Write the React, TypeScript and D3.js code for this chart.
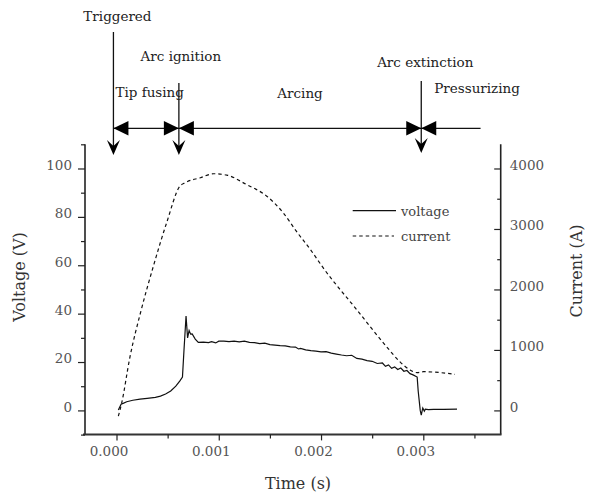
import React, { useEffect, useRef } from "react";
import * as d3 from "d3";

// ---- data ----
const voltageTime = [
  0.000018, 0.000045, 0.00007, 0.0001, 0.00016, 0.00023, 0.0003, 0.00038, 0.00043, 0.00048,
  0.00053, 0.00058, 0.00062, 0.000645, 0.00066, 0.00068, 0.000695, 0.00071, 0.000725, 0.00074,
  0.00077, 0.0008, 0.00085, 0.0009, 0.00093, 0.00097, 0.001, 0.00105, 0.0011, 0.00115,
  0.0012, 0.00125, 0.0013, 0.00135, 0.0014, 0.00145, 0.0015, 0.00155, 0.0016, 0.00165,
  0.0017, 0.00175, 0.00178, 0.0018, 0.00185, 0.0019, 0.00195, 0.002, 0.00205, 0.0021,
  0.00215, 0.0022, 0.00225, 0.0023, 0.00235, 0.0024, 0.00245, 0.0025, 0.00255, 0.0026,
  0.00263, 0.00266, 0.00269, 0.00272, 0.00275, 0.00278, 0.00281, 0.00284, 0.00287, 0.0029,
  0.00294, 0.00295, 0.00297, 0.00298, 0.002995, 0.00301, 0.00302, 0.00305, 0.0031, 0.0032,
  0.00333,
];
const voltageValues = [
  0.2, 2.6, 3.0, 3.6, 4.2, 4.7, 5.0, 5.4, 5.9, 6.8,
  8.0, 10.0, 12.2, 13.8, 25, 39, 30, 33, 31.5, 31.6,
  29.5, 28.1, 28.2, 28.0, 28.4, 27.9, 28.6, 28.6, 28.4, 28.6,
  28.3, 28.6, 28.1, 28.0, 27.6, 27.8, 27.2, 27.0, 26.8, 26.7,
  26.3, 26.2, 25.4, 25.6, 25.0, 24.7, 24.5, 24.2, 24.3, 23.7,
  23.3, 22.9, 22.6, 22.8, 21.5, 21.2, 20.6, 20.3, 19.4, 19.6,
  18.2, 18.8, 17.4, 18.0, 16.9, 17.5, 16.2, 16.5, 15.2, 14.7,
  13.8, 8, 0, -2.0, 1.0, -0.3, 0.5, 0.3, 0.4, 0.4,
  0.5,
];
const currentTime = [
  0.000018, 0.00005, 0.00013, 0.00024, 0.00036, 0.00049, 0.00062, 0.00067, 0.00082, 0.00095,
  0.00108, 0.00127, 0.00147, 0.00163, 0.00176, 0.0019, 0.00202, 0.00235, 0.00264, 0.00277,
  0.00287, 0.00294, 0.003, 0.00331,
];
const currentValues = [
  -95, 116, 870, 1650, 2381, 3101, 3708, 3764, 3847, 3913,
  3890, 3736, 3542, 3267, 2960, 2650, 2360, 1663, 1055, 806,
  668, 624, 640, 597,
];
const timeTicks = [0, 0.001, 0.002, 0.003];
const timeMinorTicks = [0.0005, 0.0015, 0.0025, 0.0035];
const voltageTicks = [0, 20, 40, 60, 80, 100];
const voltageMinorTicks = [-10, 10, 30, 50, 70, 90, 110];
const currentTicks = [0, 1000, 2000, 3000, 4000];
const currentMinorTicks = [500, 1500, 2500, 3500];
const eventNames = ["Triggered", "Arc ignition", "Arc extinction"];
const eventTimes = [-0.00003, 0.00061, 0.00298];
const phaseNames = ["Tip fusing", "Arcing", "Pressurizing"];
const phaseEndTime = 0.00356;
const legendNames = ["voltage", "current"];

const FONT = "'DejaVu Serif', serif";

export default function App() {
  const leftRef = useRef<SVGGElement>(null);
  const rightRef = useRef<SVGGElement>(null);
  const bottomRef = useRef<SVGGElement>(null);

  const x = d3.scaleLinear().domain([0, 0.003]).range([116.5, 423.3]);
  const yV = d3.scaleLinear().domain([-10, 110]).range([434.6, 144.3]);
  const yI = d3.scaleLinear().domain([-400, 4400]).range([434.6, 144.3]);
  const left = 85;
  const right = 500.7;
  const bottom = 434.4;

  useEffect(() => {
    const gl = d3.select(leftRef.current!);
    gl.selectAll("*").remove();
    gl.append("g").call(d3.axisLeft(yV).tickValues(voltageTicks).tickSize(7).tickPadding(6).tickFormat(d3.format("d")));
    gl.append("g").call(d3.axisLeft(yV).tickValues(voltageMinorTicks).tickSize(4).tickFormat(() => ""));
    gl.selectAll(".domain").remove();
    gl.selectAll("line").attr("stroke", "#222").attr("stroke-width", 1.2);
    gl.selectAll("text").attr("font-family", FONT).attr("font-size", 13.5).attr("fill", "#555").attr("dy", "0.06em");

    const gr = d3.select(rightRef.current!);
    gr.selectAll("*").remove();
    gr.append("g").call(d3.axisRight(yI).tickValues(currentTicks).tickSize(-6.5).tickPadding(9).tickFormat(d3.format("d")));
    gr.append("g").call(d3.axisRight(yI).tickValues(currentMinorTicks).tickSize(-3.5).tickFormat(() => ""));
    gr.selectAll(".domain").remove();
    gr.selectAll("line").attr("stroke", "#222").attr("stroke-width", 1.2);
    gr.selectAll("text").attr("font-family", FONT).attr("font-size", 13.5).attr("fill", "#555").attr("dy", "0.06em");

    const gb = d3.select(bottomRef.current!);
    gb.selectAll("*").remove();
    gb.append("g").call(d3.axisBottom(x).tickValues(timeTicks).tickSize(6).tickFormat(d3.format(".3f")));
    gb.append("g").call(d3.axisBottom(x).tickValues(timeMinorTicks).tickSize(4).tickFormat(() => ""));
    gb.selectAll(".domain").remove();
    gb.selectAll("line").attr("stroke", "#222").attr("stroke-width", 1.2);
    gb.selectAll("text").attr("font-family", FONT).attr("font-size", 13.5).attr("fill", "#555")
      .attr("x", -8).attr("y", 21.5).attr("dy", "0");
  }, []);

  const vData = voltageTime.map((t, i) => [t, voltageValues[i]] as [number, number]);
  const iData = currentTime.map((t, i) => [t, currentValues[i]] as [number, number]);
  const vLine = d3.line<[number, number]>().x((d) => x(d[0])).y((d) => yV(d[1]));
  const iLine = d3.line<[number, number]>().x((d) => x(d[0])).y((d) => yI(d[1])).curve(d3.curveMonotoneX);

  const evX = eventTimes.map((t) => x(t));
  const endX = x(phaseEndTime);
  const hy = 128.3;
  const arrowTops = [32, 83, 81];
  const arrowTips = [155, 155, 153];
  const labelY = [21, 61, 67];
  const labelDx = [4, 2, 4];

  const downHead = (cx: number, tip: number) =>
    `M${cx},${tip} L${cx - 6.5},${tip - 15} L${cx},${tip - 9} L${cx + 6.5},${tip - 15} Z`;
  const leftHead = (tx: number) => `M${tx},${hy} L${tx + 15},${hy - 7.2} L${tx + 15},${hy + 7.2} Z`;
  const rightHead = (tx: number) => `M${tx},${hy} L${tx - 15},${hy - 7.2} L${tx - 15},${hy + 7.2} Z`;

  return (
    <svg width={589} height={498} style={{ position: "absolute", left: 0, top: 0, background: "#fff" }}>
      <rect x={0} y={0} width={589} height={498} fill="#fff" />
      {/* annotations */}
      <g fill="#222" fontFamily={FONT} fontSize={13.5}>
        {eventNames.map((n, i) => (
          <g key={n}>
            <text x={evX[i] + labelDx[i]} y={labelY[i]} textAnchor="middle">{n}</text>
            <line x1={evX[i]} x2={evX[i]} y1={arrowTops[i]} y2={arrowTips[i] - 6} stroke="#111" strokeWidth={1.3} />
            <path d={downHead(evX[i], arrowTips[i])} fill="#000" />
          </g>
        ))}
        <line x1={evX[0]} x2={endX} y1={hy} y2={hy} stroke="#111" strokeWidth={1.3} />
        <path d={leftHead(evX[0])} fill="#000" />
        <path d={rightHead(evX[1])} fill="#000" />
        <path d={leftHead(evX[1])} fill="#000" />
        <path d={rightHead(evX[2])} fill="#000" />
        <path d={leftHead(evX[2])} fill="#000" />
        <text x={evX[0] + 2} y={97}>{phaseNames[0]}</text>
        <text x={(evX[1] + evX[2]) / 2} y={98} textAnchor="middle">{phaseNames[1]}</text>
        <text x={evX[2] + 13} y={93}>{phaseNames[2]}</text>
      </g>

      {/* axes lines */}
      <line x1={left} x2={left} y1={144.3} y2={bottom} stroke="#222" strokeWidth={1.6} />
      <line x1={right} x2={right} y1={144.3} y2={bottom} stroke="#222" strokeWidth={1.6} />
      <line x1={left - 2} x2={right + 0.8} y1={bottom} y2={bottom} stroke="#333" strokeWidth={2} />
      <g ref={leftRef} transform={`translate(${left},0)`} />
      <g ref={rightRef} transform={`translate(${right},0)`} />
      <g ref={bottomRef} transform={`translate(0,${bottom})`} />

      {/* series */}
      <path d={iLine(iData) || ""} fill="none" stroke="#111" strokeWidth={1.2} strokeDasharray="3.5,3" />
      <path d={vLine(vData) || ""} fill="none" stroke="#111" strokeWidth={1.2} />

      {/* legend */}
      <g fontFamily={FONT} fontSize={13} fill="#444">
        <line x1={352.7} x2={396} y1={210.7} y2={210.7} stroke="#111" strokeWidth={1.2} />
        <text x={401} y={215.5}>{legendNames[0]}</text>
        <line x1={352.7} x2={394} y1={236} y2={236} stroke="#111" strokeWidth={1.2} strokeDasharray="3.5,3" />
        <text x={401} y={240.5}>{legendNames[1]}</text>
      </g>

      {/* axis titles */}
      <g fontFamily={FONT} fontSize={16} fill="#333">
        <text transform="translate(25,277) rotate(-90)" textAnchor="middle">Voltage (V)</text>
        <text transform="translate(582,271) rotate(-90)" textAnchor="middle">Current (A)</text>
        <text x={298} y={489} textAnchor="middle">Time (s)</text>
      </g>
    </svg>
  );
}
